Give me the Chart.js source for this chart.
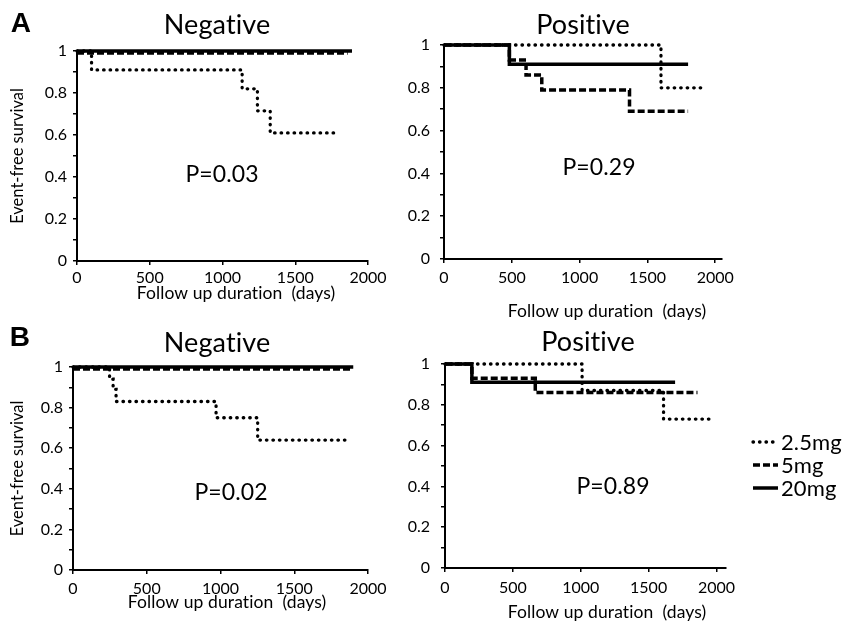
<!DOCTYPE html>
<html lang="en">
<head>
<meta charset="UTF-8">
<title>Event-free survival by dose</title>
<script src="https://cdn.jsdelivr.net/npm/chart.js"></script>
<style>
    body { margin: 0; background: #fff; }
    #figure { position: relative; width: 845px; height: 621px; }
    #figure canvas { position: absolute; left: 0; top: 0; }
</style>
</head>
<body>
<div id="figure">
    <canvas id="aNeg" width="845" height="621"></canvas>
    <canvas id="aPos" width="845" height="621"></canvas>
    <canvas id="bNeg" width="845" height="621"></canvas>
    <canvas id="bPos" width="845" height="621"></canvas>
</div>
<script>
// legend labels, same order in every panel
const doses = ['2.5mg', '5mg', '20mg'];
const xTickValues = [0, 500, 1000, 1500, 2000];
const yTickStep = 0.1;

// A - Negative (days / event-free survival)
const aNegDays25 = [0, 100, 1135, 1240, 1328, 1780];
const aNegSurv25 = [1, 0.91, 0.82, 0.715, 0.61, 0.61];
const aNegDays5 = [0, 1860];
const aNegSurv5 = [0.99, 0.99];
const aNegDays20 = [0, 1890];
const aNegSurv20 = [1, 1];

// A - Positive
const aPosDays25 = [0, 1600, 1905];
const aPosSurv25 = [1, 0.8, 0.8];
const aPosDays5 = [0, 482, 605, 721, 1368, 1800];
const aPosSurv5 = [1, 0.93, 0.86, 0.79, 0.69, 0.69];
const aPosDays20 = [0, 482, 1800];
const aPosSurv20 = [1, 0.91, 0.91];

// B - Negative
const bNegDays25 = [0, 248, 272, 292, 970, 1252, 1855];
const bNegSurv25 = [1, 0.94, 0.89, 0.83, 0.75, 0.64, 0.64];
const bNegDays5 = [0, 1880];
const bNegSurv5 = [0.99, 0.99];
const bNegDays20 = [0, 1900];
const bNegSurv20 = [1, 1];

// B - Positive
const bPosDays25 = [0, 1010, 1610, 1945];
const bPosSurv25 = [1, 0.87, 0.73, 0.73];
const bPosDays5 = [0, 198, 665, 1860];
const bPosSurv5 = [1, 0.93, 0.86, 0.86];
const bPosDays20 = [0, 198, 1695];
const bPosSurv20 = [1, 0.91, 0.91];

const FONT = 'Lato, "Open Sans", sans-serif';

// dotted / dashed / solid like the original
const doseStyles = [
    { borderWidth: 3.3, borderDash: [0.5, 6], borderCapStyle: 'round' },
    { borderWidth: 3.5, borderDash: [7, 3], borderCapStyle: 'butt' },
    { borderWidth: 3.5, borderDash: [], borderCapStyle: 'butt' }
];

function toPoints(days, surv) {
    return days.map((d, i) => ({ x: d, y: surv[i] }));
}

// titles, p-values, axis titles and the legend
function textPlugin(items, legend) {
    return {
        id: 'panelText',
        afterDraw(chart) {
            const ctx = chart.ctx;
            ctx.save();
            ctx.fillStyle = '#000';
            ctx.textBaseline = 'middle';
            // non-zero spacing keeps Lato from joining "ti"
            ctx.letterSpacing = '0.1px';
            items.forEach(t => {
                ctx.font = t.font;
                ctx.textAlign = 'center';
                ctx.fillText(t.text, t.x, t.y);
            });
            if (legend) {
                chart.data.datasets.forEach((ds, i) => {
                    const y = legend.y + i * legend.gap;
                    ctx.strokeStyle = '#000';
                    ctx.lineWidth = ds.borderWidth;
                    ctx.setLineDash(ds.borderDash);
                    ctx.lineCap = ds.borderCapStyle;
                    ctx.beginPath();
                    ctx.moveTo(legend.x, y);
                    ctx.lineTo(legend.x + legend.len, y);
                    ctx.stroke();
                    ctx.setLineDash([]);
                    ctx.font = '22px ' + FONT;
                    ctx.textAlign = 'left';
                    ctx.fillText(ds.label, legend.x + legend.len + 3, y + 1);
                });
            }
            ctx.restore();
        }
    };
}

function makePanel(id, p) {
    const yw = p.yTitle ? p.area.l : 40;
    const xh = 30;
    const tickGrid = {
        display: true,
        drawOnChartArea: false,
        drawTicks: true,
        tickLength: 4,
        color: '#000',
        lineWidth: 1.5
    };
    new Chart(document.getElementById(id), {
        type: 'line',
        data: {
            datasets: p.series.map((s, i) => Object.assign({
                label: doses[i],
                data: toPoints(s[0], s[1]),
                borderColor: '#000',
                stepped: true,
                pointRadius: 0,
                fill: false,
                clip: false
            }, doseStyles[i]))
        },
        options: {
            responsive: false,
            animation: false,
            events: [],
            layout: {
                padding: {
                    left: p.area.l - yw,
                    top: p.area.t,
                    right: 845 - p.area.r,
                    bottom: 621 - p.area.b - xh
                }
            },
            plugins: {
                legend: { display: false },
                tooltip: { enabled: false }
            },
            scales: {
                x: {
                    type: 'linear',
                    min: 0,
                    max: p.xMax,
                    afterBuildTicks: s => { s.ticks = xTickValues.map(v => ({ value: v })); },
                    ticks: {
                        color: '#000',
                        font: { family: FONT, size: 16 },
                        padding: p.xPad,
                        maxRotation: 0,
                        autoSkip: false,
                        callback: v => String(v)
                    },
                    grid: tickGrid,
                    border: { display: true, color: '#000', width: 2 },
                    afterFit: s => { s.height = xh; }
                },
                y: {
                    min: 0,
                    max: 1,
                    ticks: {
                        stepSize: yTickStep,
                        autoSkip: false,
                        color: '#000',
                        font: { family: FONT, size: 16 },
                        padding: p.yPad,
                        callback: v => Math.round(v * 10) % 2 === 0 ? String(+v.toFixed(1)) : ''
                    },
                    title: {
                        display: !!p.yTitle,
                        text: 'Event-free survival',
                        color: '#000',
                        font: { family: FONT, size: 16.5 },
                        padding: { top: 8, bottom: 0 }
                    },
                    grid: tickGrid,
                    border: { display: true, color: '#000', width: 2 },
                    afterFit: s => { s.width = yw; }
                }
            }
        },
        plugins: [textPlugin(p.texts, p.legend)]
    });
}

const titleFont = '27px ' + FONT;
const pFont = '23px ' + FONT;
const axisFont = '17.5px ' + FONT;
const letterFont = 'bold 28px "Liberation Sans", Arial, sans-serif';
const xTitle = 'Follow up duration  (days)';

makePanel('aNeg', {
    series: [[aNegDays25, aNegSurv25], [aNegDays5, aNegSurv5], [aNegDays20, aNegSurv20]],
    area: { l: 77, t: 51, r: 368, b: 261 },
    xMax: 2000, yTitle: true, xPad: 3, yPad: 6,
    texts: [
        { text: 'A', x: 21, y: 24, font: letterFont },
        { text: 'Negative', x: 217, y: 25, font: titleFont },
        { text: 'P=0.03', x: 222, y: 175, font: pFont },
        { text: xTitle, x: 236, y: 293, font: axisFont }
    ]
});

makePanel('aPos', {
    series: [[aPosDays25, aPosSurv25], [aPosDays5, aPosSurv5], [aPosDays20, aPosSurv20]],
    area: { l: 444, t: 45, r: 722, b: 259 },
    xMax: 2050, yTitle: false, xPad: 5, yPad: 10,
    texts: [
        { text: 'Positive', x: 583, y: 25, font: titleFont },
        { text: 'P=0.29', x: 599, y: 168, font: pFont },
        { text: xTitle, x: 607, y: 311, font: axisFont }
    ]
});

makePanel('bNeg', {
    series: [[bNegDays25, bNegSurv25], [bNegDays5, bNegSurv5], [bNegDays20, bNegSurv20]],
    area: { l: 73, t: 367, r: 368, b: 570 },
    xMax: 2000, yTitle: true, xPad: 5, yPad: 6,
    texts: [
        { text: 'B', x: 20, y: 338, font: letterFont },
        { text: 'Negative', x: 217, y: 343, font: titleFont },
        { text: 'P=0.02', x: 231, y: 493, font: pFont },
        { text: xTitle, x: 227, y: 602, font: axisFont }
    ]
});

makePanel('bPos', {
    series: [[bPosDays25, bPosSurv25], [bPosDays5, bPosSurv5], [bPosDays20, bPosSurv20]],
    area: { l: 445, t: 364, r: 726, b: 568 },
    xMax: 2070, yTitle: false, xPad: 6, yPad: 11,
    texts: [
        { text: 'Positive', x: 588, y: 342, font: titleFont },
        { text: 'P=0.89', x: 613, y: 487, font: pFont },
        { text: xTitle, x: 607, y: 612, font: axisFont }
    ],
    legend: { x: 753, y: 442, gap: 23, len: 25 }
});
</script>
</body>
</html>
